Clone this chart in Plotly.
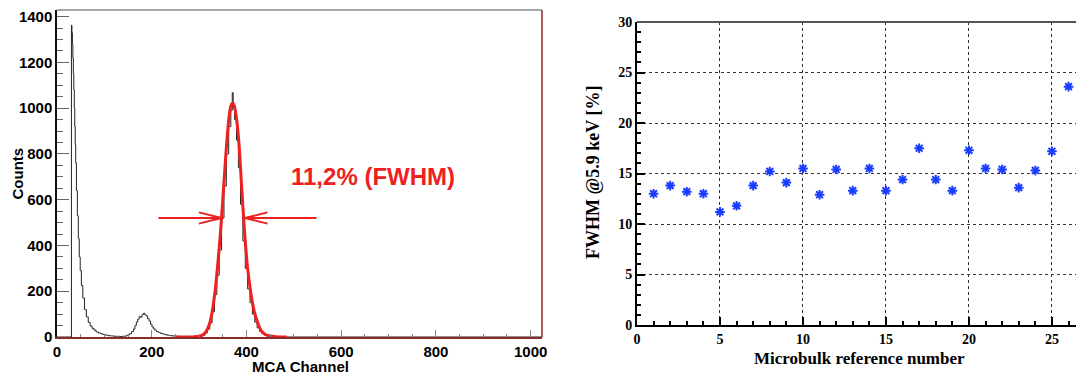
import plotly.graph_objects as go

# ---------------- data: left panel (MCA spectrum) ----------------
hist_channels = [0, 30, 31, 32, 33, 34, 35, 36, 37, 38, 39, 40, 42, 44, 46, 48, 50, 53, 56, 60,
                 64, 68, 72, 76, 80, 85, 90, 95, 100, 105, 110, 115, 120, 125, 130, 135, 140, 145,
                 150, 155, 160, 163, 166, 169, 172, 175, 178, 181, 184, 187, 190, 193, 196, 199,
                 202, 205, 208, 212, 216, 220, 225, 230, 235, 240, 245, 250, 255, 260, 270, 280,
                 290, 300, 305, 310, 315, 320, 325, 330, 335, 340, 345, 350, 355, 360, 365, 369,
                 371, 373, 377, 381, 385, 390, 395, 400, 405, 410, 415, 420, 425, 430, 435, 440,
                 450, 460, 470, 480, 490, 1024]
hist_counts = [0, 0, 1362, 1330, 1280, 1220, 1150, 1080, 1000, 920, 840, 760, 640, 530, 430, 350, 290, 225, 170, 120,
               88, 64, 48, 38, 30, 22, 17, 14, 11, 8, 6, 5, 4, 3, 3, 2, 3, 4,
               8, 14, 24, 35, 50, 65, 78, 90, 86, 98, 104, 96, 92, 80, 70, 56,
               44, 36, 30, 24, 20, 16, 13, 10, 8, 6, 5, 4, 3, 2, 1, 1,
               2, 2, 4, 8, 18, 35, 62, 110, 185, 270, 380, 520, 660, 800, 920, 990,
               1068, 1000, 950, 860, 740, 580, 420, 300, 210, 150, 100, 65, 40, 25, 15, 9,
               4, 2, 1, 1, 0, 0]

fit_channels = [252, 285, 300, 310, 316, 322, 328, 334, 340, 346, 352, 358, 364, 368, 371, 374,
                378, 384, 390, 396, 402, 408, 414, 420, 426, 432, 440, 450, 462, 485]
fit_counts = [0, 0, 3, 12, 28, 58, 115, 205, 330, 480, 660, 840, 975, 1015, 1022, 1012,
              970, 850, 650, 460, 310, 210, 135, 85, 50, 25, 11, 4, 1, 0]

left_xticks = [0, 200, 400, 600, 800, 1000]
left_yticks = [0, 200, 400, 600, 800, 1000, 1200, 1400]
fwhm_label = "11,2% (FWHM)"

# ---------------- data: right panel (FWHM per microbulk) ----------------
microbulk_ref = [1, 2, 3, 4, 5, 6, 7, 8, 9, 10, 11, 12, 13, 14, 15, 16, 17, 18, 19, 20,
                 21, 22, 23, 24, 25, 26]
fwhm_percent = [13.0, 13.8, 13.2, 13.0, 11.2, 11.8, 13.8, 15.2, 14.1, 15.5, 12.9, 15.4, 13.3,
                15.5, 13.3, 14.4, 17.5, 14.4, 13.3, 17.3, 15.5, 15.4, 13.6, 15.3, 17.2, 23.6]
right_xticks = [0, 5, 10, 15, 20, 25]
right_yticks = [0, 5, 10, 15, 20, 25, 30]

RED = "#ee2020"
SANS = "Liberation Sans, Arial, sans-serif"
SERIF = "Liberation Serif, Times New Roman, serif"

fig = go.Figure()

fig.add_trace(go.Scatter(
    x=hist_channels, y=hist_counts, mode="lines", line=dict(color="#222222", width=1, shape="hvh"),
    xaxis="x", yaxis="y", showlegend=False, hoverinfo="skip"))
fig.add_trace(go.Scatter(
    x=fit_channels, y=fit_counts, mode="lines",
    line=dict(color=RED, width=3, shape="spline", smoothing=0.8),
    xaxis="x", yaxis="y", showlegend=False, hoverinfo="skip"))

fig.add_trace(go.Scatter(
    x=microbulk_ref, y=fwhm_percent, mode="markers",
    marker=dict(symbol="asterisk-open", size=8, color="#1a3cff",
                line=dict(color="#1a3cff", width=2)),
    xaxis="x2", yaxis="y2", showlegend=False, cliponaxis=False))

W, H = 1076, 374
ML, MR, MT, MB = 57, 0, 10, 37
PW, PH = W - ML - MR, H - MT - MB


def px(xp):
    return (xp - ML) / PW


def py(yp):
    return (H - MB - yp) / PH


def bold_ticks(vals):
    return ["<b>%s</b>" % v for v in vals]


fig.update_layout(
    width=W, height=H,
    margin=dict(l=ML, r=MR, t=MT, b=MB, pad=0),
    paper_bgcolor="white", plot_bgcolor="white",
    xaxis=dict(domain=[0, px(542)], range=[0, 1024], tickvals=left_xticks,
               ticktext=bold_ticks(left_xticks),
               ticks="inside", ticklen=7, tickcolor="#888888", tickwidth=1,
               minor=dict(dtick=50, tick0=0, ticks="inside", ticklen=3, tickcolor="#888888"),
               showline=True, linecolor="#8b2a2a", linewidth=1.5,
               showgrid=False, zeroline=False, automargin=False, anchor="y",
               tickfont=dict(family=SANS, size=15, color="black")),
    yaxis=dict(domain=[0, 1], range=[0, 1429], tickvals=left_yticks,
               ticktext=bold_ticks(left_yticks),
               ticks="inside", ticklen=12, tickcolor="#666666", tickwidth=1,
               minor=dict(dtick=50, tick0=0, ticks="inside", ticklen=6, tickcolor="#666666"),
               showline=True, linecolor="#111111", linewidth=1.5,
               showgrid=False, zeroline=False, automargin=False, anchor="x",
               tickfont=dict(family=SANS, size=15, color="black")),
    xaxis2=dict(domain=[px(637), 1], range=[0, 26.45], tickvals=right_xticks,
                ticktext=bold_ticks(right_xticks),
                ticks="inside", ticklen=8, tickcolor="black", tickwidth=1.5,
                minor=dict(dtick=1, tick0=0, ticks="inside", ticklen=4, tickcolor="black"),
                showline=True, linecolor="black", linewidth=2,
                showgrid=True, gridcolor="#333333", griddash="dot", gridwidth=1,
                zeroline=False, automargin=False, anchor="y2",
                tickfont=dict(family=SERIF, size=14, color="black")),
    yaxis2=dict(domain=[py(325), py(22)], range=[0, 30], tickvals=right_yticks,
                ticktext=bold_ticks(right_yticks),
                ticks="inside", ticklen=8, tickcolor="black", tickwidth=1.5,
                minor=dict(dtick=1, tick0=0, ticks="inside", ticklen=4, tickcolor="black"),
                showline=True, linecolor="black", linewidth=2,
                showgrid=True, gridcolor="#333333", griddash="dot", gridwidth=1,
                zeroline=False, automargin=False, anchor="x2",
                tickfont=dict(family=SERIF, size=14, color="black")),
)

# frame borders
fig.add_shape(type="line", xref="x domain", yref="y domain", x0=0, x1=1, y0=1, y1=1,
              line=dict(color="#8a8a8a", width=1.5))
fig.add_shape(type="line", xref="x domain", yref="y domain", x0=1, x1=1, y0=0, y1=1,
              line=dict(color="#8b2a2a", width=1.5))
fig.add_shape(type="line", xref="x2 domain", yref="y2 domain", x0=0, x1=1, y0=1, y1=1,
              line=dict(color="#555555", width=2))

annotations = []
# axis titles
annotations.append(dict(text="<b>Counts</b>", x=px(17), y=py(173.5), xref="paper", yref="paper",
                        textangle=-90, showarrow=False, xanchor="center", yanchor="middle",
                        font=dict(family=SANS, size=15, color="black")))
annotations.append(dict(text="<b>MCA Channel</b>", x=px(300), y=py(366), xref="paper", yref="paper",
                        showarrow=False, xanchor="center", yanchor="middle",
                        font=dict(family=SANS, size=15, color="black")))
annotations.append(dict(text="<b>FWHM @5.9 keV [%]</b>", x=px(593), y=py(173), xref="paper",
                        yref="paper", textangle=-90, showarrow=False, xanchor="center",
                        yanchor="middle", font=dict(family=SERIF, size=18, color="black")))
annotations.append(dict(text="<b>Microbulk reference number</b>", x=px(859), y=py(358),
                        xref="paper", yref="paper", showarrow=False, xanchor="center",
                        yanchor="middle", font=dict(family=SERIF, size=17, color="black")))
# FWHM label
annotations.append(dict(text="<b>%s</b>" % fwhm_label, x=667, y=700, xref="x", yref="y",
                        showarrow=False, xanchor="center", yanchor="middle",
                        font=dict(family=SANS, size=24, color=RED)))

# arrows (main shafts and open heads)
arrow_y = 520
for tip, tail in [(347, 211), (397, 551)]:
    annotations.append(dict(text="", x=tip, y=arrow_y, xref="x", yref="y",
                            ax=tail, ay=arrow_y, axref="x", ayref="y",
                            showarrow=True, arrowhead=0, arrowwidth=2, arrowcolor=RED,
                            standoff=0, startstandoff=0))
    sgn = -1 if tail < tip else 1
    for dy in (-6, 6):
        annotations.append(dict(text="", x=tip, y=arrow_y, xref="x", yref="y",
                                ax=sgn * 24, ay=dy, showarrow=True, arrowhead=0,
                                arrowwidth=2, arrowcolor=RED, standoff=0, startstandoff=0))

fig.update_layout(annotations=annotations)

fig.write_html("out.html", config={"displayModeBar": False},
               post_script="document.body.style.margin='0';document.body.style.overflow='hidden';")
